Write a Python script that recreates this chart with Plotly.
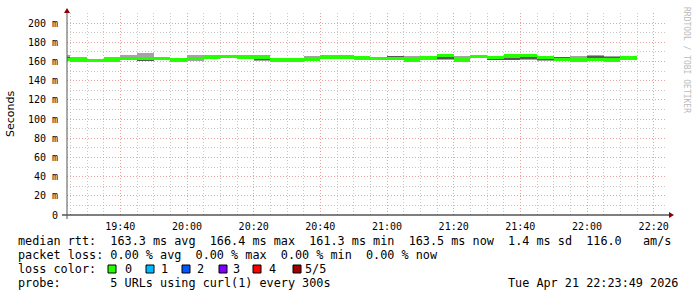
import plotly.graph_objects as go

# ---------------- data ----------------
starts = ["19:20", "19:25", "19:30", "19:35", "19:40", "19:45", "19:50", "19:55",
          "20:00", "20:05", "20:10", "20:15", "20:20", "20:25", "20:30", "20:35",
          "20:40", "20:45", "20:50", "20:55", "21:00", "21:05", "21:10", "21:15",
          "21:20", "21:25", "21:30", "21:35", "21:40", "21:45", "21:50", "21:55",
          "22:00", "22:05", "22:10"]
median_ms = [162.0, 161.5, 161.3, 161.5, 162.8, 162.8, 162.8, 161.5,
             163.0, 164.5, 165.0, 164.5, 164.5, 161.5, 161.5, 162.5,
             164.5, 164.5, 163.5, 163.0, 162.8, 161.5, 163.5, 166.4,
             161.5, 165.0, 164.0, 165.5, 166.4, 164.0, 162.0, 161.5,
             162.0, 161.5, 163.5]
ping_min = [160.5, 160.0, 160.5, 160.5, 161.5, 160.0, 161.5, 160.5,
            160.8, 163.0, 163.5, 163.0, 160.5, 160.5, 160.5, 161.0,
            163.0, 163.5, 162.0, 162.0, 161.5, 160.5, 162.0, 161.5,
            160.5, 163.5, 161.0, 161.0, 161.5, 160.5, 161.0, 160.5,
            161.0, 160.5, 162.0]
ping_lo = [161.0, 160.3, 161.0, 161.0, 162.0, 160.5, 162.0, 161.0,
           161.0, 163.5, 164.0, 163.5, 161.0, 161.0, 161.0, 161.5,
           163.5, 164.0, 162.0, 162.5, 162.0, 161.0, 162.5, 162.5,
           161.0, 164.0, 161.3, 161.5, 162.0, 161.0, 161.5, 161.0,
           161.3, 161.0, 162.5]
ping_hi = [164.5, 162.5, 162.0, 162.5, 163.5, 164.0, 163.5, 162.0,
           164.0, 165.0, 165.5, 166.0, 165.0, 162.0, 162.0, 165.0,
           166.0, 165.0, 164.0, 163.5, 165.5, 163.0, 164.5, 167.0,
           163.0, 166.0, 164.5, 166.0, 167.0, 164.5, 164.5, 162.5,
           166.0, 165.0, 164.5]
ping_max = [167.0, 164.5, 163.0, 164.5, 166.5, 168.5, 165.0, 163.0,
            166.5, 165.5, 166.0, 165.5, 165.5, 162.5, 162.5, 165.5,
            167.0, 165.5, 164.5, 164.0, 166.0, 165.5, 165.5, 167.5,
            166.0, 167.0, 165.0, 167.0, 167.5, 165.0, 165.0, 166.0,
            166.5, 165.5, 165.0]

y_tickvals = [0, 20, 40, 60, 80, 100, 120, 140, 160, 180, 200]
y_ticktext = ["0", "20 m", "40 m", "60 m", "80 m", "100 m", "120 m", "140 m",
              "160 m", "180 m", "200 m"]
x_tickvals = ["19:40", "20:00", "20:20", "20:40", "21:00", "21:20", "21:40", "22:00", "22:20"]

loss_labels = ["0", "1", "2", "3", "4", "5/5"]
loss_colors = ["#26ff00", "#00b8ff", "#0059ff", "#7e00ff", "#ff0000", "#a10000"]

rtt_line = "median rtt:  163.3 ms avg  166.4 ms max  161.3 ms min  163.5 ms now  1.4 ms sd  116.0   am/s"
loss_line = "packet loss: 0.00 % avg  0.00 % max  0.00 % min  0.00 % now"
probe_line = "probe:       5 URLs using curl(1) every 300s"
date_text = "Tue Apr 21 22:23:49 2026"

DAY = "2026-04-21 "
x_start = DAY + "19:24:00"
x_end = DAY + "22:24:00"

# ---------------- layout geometry ----------------
W, H = 697, 297
L, R, T, B = 67, 667, 13, 215


def px(x):
    return (x - L) / (R - L)


def py(y):
    return (B - y) / (B - T)


def nb(s):
    return s.replace(" ", "\u00a0")


xs = [DAY + s + ":00" for s in starts]
STEP_MS = 300000
HALF = 1.7  # half thickness of median band

fig = go.Figure()


def band(lo, hi, color):
    fig.add_trace(go.Bar(
        x=xs, y=[h - l for l, h in zip(lo, hi)], base=lo,
        width=[STEP_MS] * len(xs), offset=0,
        marker=dict(color=color, line=dict(width=0)),
        hoverinfo="skip", showlegend=False))


band(ping_min, ping_max, "#a4a4a4")
band(ping_lo, ping_hi, "#585858")
band([m - HALF for m in median_ms], [m + HALF for m in median_ms], loss_colors[0])

mono = "DejaVu Sans Mono"
major = "#e8a0a0"
minor = "#c8c8c8"

fig.update_layout(
    width=W, height=H, autosize=False,
    margin=dict(l=L, r=W - R, t=T, b=H - B, pad=0),
    paper_bgcolor="white", plot_bgcolor="white",
    barmode="overlay", bargap=0,
    showlegend=False,
    font=dict(family=mono, size=10, color="#000"),
    xaxis=dict(
        type="date", range=[x_start, x_end],
        tickvals=[DAY + t for t in x_tickvals], ticktext=x_tickvals,
        showgrid=True, gridcolor=major, griddash="1px,2px", gridwidth=1,
        minor=dict(dtick=STEP_MS, tick0=DAY + "19:00", showgrid=True,
                   gridcolor=minor, griddash="1px,2px", gridwidth=1),
        showline=False, zeroline=False, ticks="",
        ticklabelstandoff=4,
        tickfont=dict(family=mono, size=10, color="#000"),
        fixedrange=True,
    ),
    yaxis=dict(
        range=[0, (B - T) / 0.96],
        tickvals=y_tickvals, ticktext=y_ticktext,
        showgrid=True, gridcolor=major, griddash="1px,2px", gridwidth=1,
        minor=dict(dtick=10, tick0=0, showgrid=True,
                   gridcolor=minor, griddash="1px,2px", gridwidth=1),
        showline=False, zeroline=False, ticks="",
        ticklabelstandoff=8,
        tickfont=dict(family=mono, size=10, color="#000"),
        fixedrange=True,
    ),
)

shapes = []
# axes
shapes.append(dict(type="line", xref="paper", yref="paper",
                   x0=px(62), x1=px(670), y0=py(215), y1=py(215),
                   line=dict(color="#000", width=1)))
shapes.append(dict(type="line", xref="paper", yref="paper",
                   x0=px(67), x1=px(67), y0=py(219), y1=py(12),
                   line=dict(color="#555", width=1)))
# arrows
shapes.append(dict(type="path", xref="paper", yref="paper",
                   path=f"M {px(64)},{py(13)} L {px(70)},{py(13)} L {px(67)},{py(8)} Z",
                   fillcolor="#8b0000", line=dict(width=0)))
shapes.append(dict(type="path", xref="paper", yref="paper",
                   path=f"M {px(669)},{py(212)} L {px(669)},{py(218)} L {px(674)},{py(215)} Z",
                   fillcolor="#8b0000", line=dict(width=0)))

# loss colour squares
sq_x = [108, 146, 182, 219, 253, 293]
lab_x = [123, 159, 195, 231, 267, 303]
for sx, c in zip(sq_x, loss_colors):
    shapes.append(dict(type="rect", xref="paper", yref="paper",
                       x0=px(sx), x1=px(sx + 8), y0=py(273), y1=py(265),
                       fillcolor=c, line=dict(color="#000", width=1)))
fig.update_layout(shapes=shapes)

ann = []
FS = 11.8


def text(x, y, s, anchor="left", size=FS, family=mono, color="#000", angle=0):
    ann.append(dict(xref="paper", yref="paper", x=px(x), y=py(y), text=nb(s),
                    showarrow=False, xanchor=anchor, yanchor="middle",
                    textangle=angle,
                    font=dict(family=family, size=size, color=color)))


text(16, 241, rtt_line)
text(16, 255, loss_line)
text(16, 269, "loss color:")
for lx, lab in zip(lab_x, loss_labels):
    text(lx, 269, lab)
text(16, 283, probe_line)
text(680, 283, date_text, anchor="right")
text(10, 114, "Seconds", anchor="center", size=11, family="DejaVu Sans", angle=-90)
text(687, 60, "RRDTOOL / TOBI OETIKER", anchor="center", size=8, color="#bbbbbb", angle=90)
fig.update_layout(annotations=ann)

fig.write_html("out.html")
